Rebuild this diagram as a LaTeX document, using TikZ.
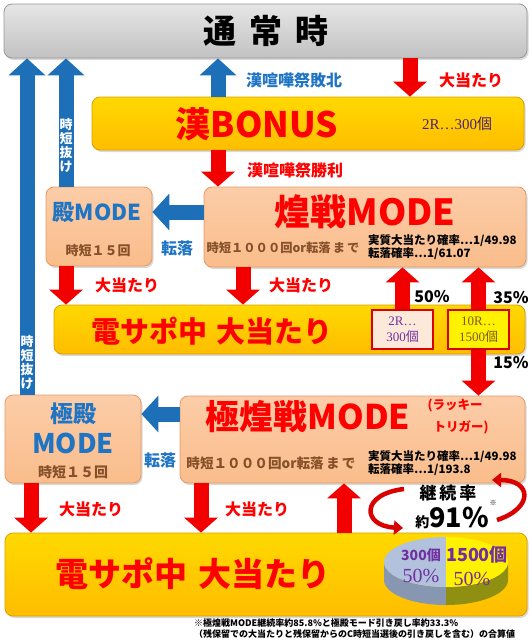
\documentclass[tikz,border=0pt]{standalone}
\usepackage{fontspec}
\setmainfont{Liberation Serif}
\newfontfamily\jp{Noto Sans CJK JP}
\usetikzlibrary{arrows.meta,positioning,calc,shadows}

\definecolor{gold}{HTML}{FFC800}
\definecolor{golddark}{HTML}{D9A000}
\definecolor{peach}{HTML}{FAC092}
\definecolor{peachdark}{HTML}{E39B68}
\definecolor{arrred}{HTML}{F20000}
\definecolor{arrblue}{HTML}{1D6FB8}
\definecolor{txtblue}{HTML}{1F74C4}
\definecolor{txtbrown}{HTML}{86502A}
\definecolor{txtpurple}{HTML}{7030A0}
\definecolor{txtolive}{HTML}{7A5A1E}
\definecolor{piegray}{HTML}{B2C2DC}
\definecolor{piegraydark}{HTML}{8797B2}
\definecolor{pieolive}{HTML}{8F8F12}

\newcommand{\fsz}[1]{\fontsize{#1}{#1}\selectfont}

\tikzset{
  box/.style={rounded corners=8pt,line width=.8pt,inner sep=0pt,
    drop shadow={opacity=.3,shadow xshift=1.5pt,shadow yshift=-2pt}},
  graybox/.style={box,draw=black!40,top color=black!10,bottom color=black!24},
  goldbox/.style={box,draw=golddark,top color=gold!70!yellow,bottom color=gold!85!orange},
  peachbox/.style={box,draw=peachdark,top color=peach!80!white,bottom color=peach!95!orange},
  tagbox/.style={draw=red!85!black,line width=1.2pt,inner sep=0pt,minimum width=61pt,
    minimum height=39pt,align=center,font=\fontsize{13}{16}\selectfont},
  redarr/.style={draw=arrred,line width=15pt,-{Triangle[length=15pt,width=33pt]}},
  bluearr/.style={draw=arrblue,line width=15pt,-{Triangle[length=17pt,width=36pt]}},
  curvearr/.style={draw=red!85!black,line width=4.5pt,-{Triangle[length=9pt,width=14pt]}},
  lbl/.style={font={\jp\bfseries\fsz{16}},inner sep=0pt},
  big/.style={font={\jp\bfseries\fsz{#1}},inner sep=0pt,text=red},
  sml/.style={font={\jp\bfseries\fsz{#1}},inner sep=0pt,text=txtbrown},
  stats/.style={font={\jp\bfseries\fontsize{11.5}{13}\selectfont},align=left,anchor=west,inner sep=0pt},
  vtext/.style={font={\jp\bfseries\fontsize{13}{14}\selectfont},text=white,align=center,inner sep=0pt},
}

\begin{document}
\begin{tikzpicture}[x=1pt,y=-1pt]
  \useasboundingbox (0,0) rectangle (531,640);
  % x and y of the arrows
  \coordinate (xa) at (27,0);
  \coordinate (xb) at (66,0);
  \coordinate (xc) at (218,0);
  \coordinate (xd) at (410,0);
  \coordinate (xe) at (243,0);
  \coordinate (xf) at (31,0);
  \coordinate (xg) at (201,0);
  \coordinate (xh) at (344,0);
  \coordinate (ya) at (0,212);
  \coordinate (yb) at (0,414);

  % boxes
  \node[graybox,minimum width=523pt,minimum height=54pt] (tsujo) at (265.5,31) {};
  \node[goldbox,minimum width=432pt,minimum height=53pt] (bonus) at (308,123.5) {};
  \node[peachbox,minimum width=106pt,minimum height=79pt] (tono) at (99,226.5) {};
  \node[peachbox,minimum width=322pt,minimum height=80pt] (kousen) at (365,227) {};
  \node[goldbox,minimum width=471pt,minimum height=49pt] (densapo) at (289.5,329.5) {};
  \node[tagbox,fill=peach!35!white,text=txtpurple] (r2) at (402.5,329.5) {2R…\\300{\jp 個}};
  \node[tagbox,fill=yellow,text=txtolive] (r10) at (478.5,329.5) {10R…\\1500{\jp 個}};
  \node[peachbox,minimum width=136pt,minimum height=88pt] (gokuden) at (73,439) {};
  \node[peachbox,minimum width=345pt,minimum height=87pt] (gokukousen) at (352.5,439.5) {};
  \node[goldbox,minimum width=522pt,minimum height=83pt] (saigo) at (266,574.5) {};

  % arrows
  \draw[bluearr] (gokuden.north -| xa) -- (tsujo.south -| xa);
  \draw[bluearr] (tono.north -| xb) -- (tsujo.south -| xb);
  \draw[bluearr] (bonus.north -| xc) -- (tsujo.south -| xc);
  \draw[redarr] (tsujo.south -| xd) -- (bonus.north -| xd);
  \draw[redarr] (bonus.south -| xc) -- (kousen.north -| xc);
  \draw[bluearr] (kousen.west |- ya) -- (tono.east |- ya);
  \draw[bluearr] (gokukousen.west |- yb) -- (gokuden.east |- yb);
  \foreach \a/\b/\c in {tono/densapo/xb,kousen/densapo/xe,gokuden/saigo/xf,gokukousen/saigo/xg}
    \draw[redarr] (\a.south -| \c) -- (\b.north -| \c);
  \draw[redarr] (r2.north) -- (r2.north |- kousen.south);
  \draw[redarr] (r10.north) -- (r10.north |- kousen.south);
  \draw[redarr] (r10.south) -- (r10.south |- gokukousen.north);
  \draw[redarr] (saigo.north -| xh) -- (gokukousen.south -| xh);

  % texts
  \node[font={\jp\bfseries\fsz{33}}] (tsujotxt) at (266,31) {通\hspace{13pt}常\hspace{13pt}時};
  \node[big=35] (bonustxt) at (257,124) {漢BONUS};
  \node[font=\fsz{15},text=txtpurple!70!black,inner sep=0pt] (bonusr) at (457,124) {2R…300{\jp 個}};
  \node[lbl,text=txtblue] (lose) at (294,80) {漢喧嘩祭敗北};
  \node[lbl,text=red] (win) at (295,170) {漢喧嘩祭勝利};
  \foreach \n/\x/\y in {a/471/80,b/127/285,c/301/285,d/91/509,e/257/509}
    \node[lbl,text=red] (hit\n) at (\x,\y) {大当たり};
  \node[vtext] (jtn1) at (66,145) {時\\短\\抜\\け};
  \node[vtext] (jtn2) at (27,362) {時\\短\\抜\\け};

  \node[big=22,text=txtblue] (tonotxt) at (97,212) {殿MODE};
  \node[sml=13] (tonojt) at (98,251) {時短１５回};
  \node[lbl,text=txtblue] (fall1) at (177,248) {転落};
  \node[big=36] (kousentxt) at (365,212) {煌戦MODE};
  \node[sml=12.3] (kousenjt) at (283,248) {時短１０００回or転落\,ま\,で};
  \node[stats] (kousenp) at (368,247.5) {実質大当たり確率…1/49.98\\転落確率…1/61.07};

  \node[lbl] (p50) at (432,297) {50\%};
  \node[lbl] (p35) at (511,298) {35\%};
  \node[lbl] (p15) at (511,363) {15\%};
  \node[big=29] (densapotxt) at (212,331) {電サポ中\hspace{10pt}大当たり};

  \node[big=23,text=txtblue] (gd1) at (73,414) {極殿};
  \node[big=27,text=txtblue] (gd2) at (73,443) {MODE};
  \node[sml=14] (gdjt) at (73,472) {時短１５回};
  \node[lbl,text=txtblue] (fall2) at (160,460) {転落};
  \node[big=34] (gktxt) at (308,417) {極煌戦MODE};
  \node[big=12.5] (lucky1) at (455,406) {(ラッキー};
  \node[big=12.5] (lucky2) at (461,427) {トリガー)};
  \node[sml=13.6] (gkjt) at (271,463) {時短１０００回or転落\,ま\,で};
  \node[stats] (gkp) at (368,463) {実質大当たり確率…1/49.98\\転落確率…1/193.8};

  \node[big=33] (saigotxt) at (193,574) {電サポ中\hspace{12pt}大当たり};

  % continuation rate
  \coordinate (c1) at (404,489);
  \coordinate (c2) at (403,528);
  \coordinate (c3) at (497,520);
  \coordinate (c4) at (492,480);
  \draw[curvearr] (c1) .. controls (360,494) and (362,526) .. (c2);
  \draw[curvearr] (c3) .. controls (534,508) and (532,480) .. (c4);
  \node[font={\jp\bfseries\fsz{17}},inner sep=0pt] (keizoku) at (448,493) {継\,続\,率};
  \node[font=\jp\bfseries,inner sep=0pt] (rate) at (452,518) {{\fsz{14}約}{\fsz{27}91\%}};
  \node[font={\jp\fsz{7}},inner sep=0pt] (kome) at (493,503) {※};

  % pie
  \fill[piegraydark] (384,562) -- (384,580) arc[start angle=180,end angle=90,x radius=62,y radius=25]
    -- (446,587) arc[start angle=90,end angle=180,x radius=62,y radius=25] -- cycle;
  \fill[pieolive] (446,587) -- (446,605) arc[start angle=90,end angle=0,x radius=62,y radius=25]
    -- (508,562) arc[start angle=0,end angle=90,x radius=62,y radius=25] -- cycle;
  \fill[piegray] (446,562) -- (446,537) arc[start angle=270,end angle=90,x radius=62,y radius=25] -- cycle;
  \fill[yellow] (446,562) -- (446,537) arc[start angle=-90,end angle=90,x radius=62,y radius=25] -- cycle;
  \node[font={\jp\bfseries\fsz{14}},text=txtpurple,inner sep=0pt] (p300) at (421,555) {300個};
  \node[font=\fsz{20},text=txtpurple,inner sep=0pt] (p300r) at (421,576) {50\%};
  \node[font={\jp\bfseries\fsz{18}},text=txtpurple,inner sep=0pt] (p1500) at (477,555) {1500個};
  \node[font=\fsz{20},text=txtpurple,inner sep=0pt] (p1500r) at (472,579) {50\%};

  % note
  \node[font={\jp\bfseries\fontsize{9}{11}\selectfont},anchor=north west,align=left,inner sep=0pt] (note) at (194,619)
    {※極煌戦MODE継続率約85.8\%と極殿モード引き戻し率約33.3\%\\（残保留での大当たりと残保留からのC時短当選後の引き戻しを含む）の合算値};
\end{tikzpicture}
\end{document}
